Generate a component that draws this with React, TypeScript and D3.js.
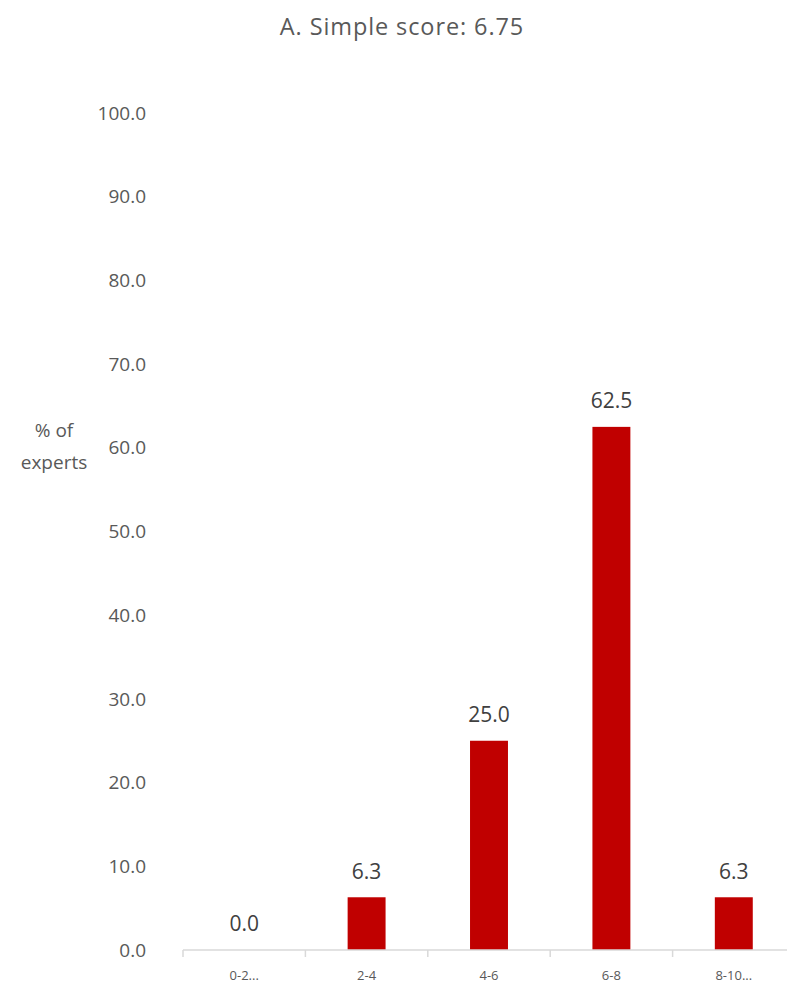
import React from "react";
import * as d3 from "d3";

const categories = ["0-2...", "2-4", "4-6", "6-8", "8-10..."];
const values = [0.0, 6.3, 25.0, 62.5, 6.3];
const yTicks = [0, 10, 20, 30, 40, 50, 60, 70, 80, 90, 100];
const title = "A. Simple score: 6.75";

export default function App() {
  const W = 787, H = 983;
  const font = "'Open Sans', 'Liberation Sans', sans-serif";
  const x = d3.scaleBand<string>().domain(categories).range([183, 795]).paddingInner(0.69).paddingOuter(0.345);
  const y = d3.scaleLinear().domain([0, 100]).range([950, 113]);
  const step = x.step();
  const x0 = 183;
  return (
    <svg width={W} height={H} style={{ position: "absolute", left: 0, top: 0 }} fontFamily={font}>
      <rect width={W} height={H} fill="#fff" />
      <text x={402} y={35} textAnchor="middle" fontSize={23.5} letterSpacing={0.9} fill="#595959">{title}</text>
      {yTicks.map((t) => (
        <text key={t} x={146} y={y(t)} dy="0.35em" textAnchor="end" fontSize={19} fill="#595959">
          {t.toFixed(1)}
        </text>
      ))}
      <text x={54} y={430} dy="0.35em" textAnchor="middle" fontSize={19} fill="#595959">% of</text>
      <text x={54} y={462} dy="0.35em" textAnchor="middle" fontSize={19} fill="#595959">experts</text>
      {categories.map((c, i) => (
        <rect key={c} x={x(c)} y={y(values[i])} width={x.bandwidth()} height={y(0) - y(values[i])} fill="#C00000" />
      ))}
      <line x1={x0} x2={795} y1={950} y2={950} stroke="#d9d9d9" strokeWidth={1.5} />
      {d3.range(categories.length + 1).map((i) => (
        <line key={i} x1={x0 + i * step} x2={x0 + i * step} y1={950} y2={957} stroke="#d9d9d9" strokeWidth={1.5} />
      ))}
      {categories.map((c) => (
        <text key={c} x={(x(c) as number) + x.bandwidth() / 2} y={975} dy="0.35em" textAnchor="middle" fontSize={13} fill="#595959">
          {c}
        </text>
      ))}
      {categories.map((c, i) => (
        <text key={c} x={(x(c) as number) + x.bandwidth() / 2} y={y(values[i]) - 26} dy="0.35em" textAnchor="middle" fontSize={21} fill="#404040">
          {values[i].toFixed(1)}
        </text>
      ))}
    </svg>
  );
}
